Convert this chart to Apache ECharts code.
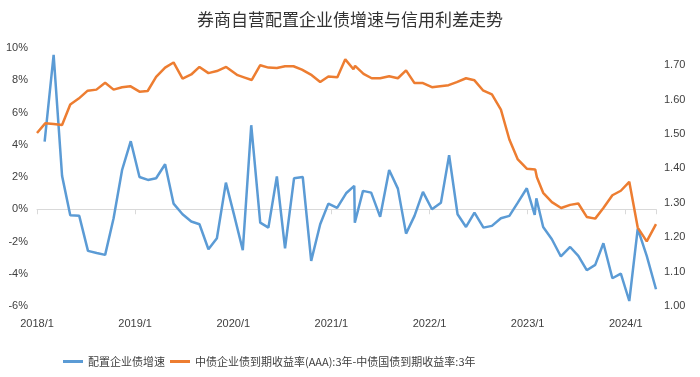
<!DOCTYPE html>
<html><head><meta charset="utf-8">
<script src="https://cdn.jsdelivr.net/npm/echarts@6/dist/echarts.min.js"></script>
<style>html,body{margin:0;padding:0;background:#fff}#c{width:700px;height:377px}</style>
</head><body><div id="c"></div>
<script>
const chartTitle = '券商自营配置企业债增速与信用利差走势';
const blueName = '配置企业债增速';
const orangeName = '中债企业债到期收益率(AAA):3年-中债国债到期收益率:3年';
const xTickLabels = ['2018/1','2019/1','2020/1','2021/1','2022/1','2023/1','2024/1'];

const blueDates = ['2018-01-29','2018-03-02','2018-04-03','2018-05-03','2018-06-06','2018-07-08','2018-08-10','2018-09-11','2018-10-12','2018-11-13','2018-12-15',
'2019-01-17','2019-02-18','2019-03-18','2019-04-21','2019-05-22','2019-06-25','2019-07-27','2019-08-27','2019-09-30','2019-11-01','2019-12-04',
'2020-01-04','2020-02-06','2020-03-07','2020-04-10','2020-05-10','2020-06-11','2020-07-11','2020-08-14','2020-09-16','2020-10-17','2020-11-20','2020-12-20',
'2021-01-22','2021-02-25','2021-03-25','2021-03-27','2021-04-27','2021-05-27','2021-06-30','2021-08-03','2021-09-05','2021-10-05','2021-11-06','2021-12-07',
'2022-01-10','2022-02-13','2022-03-13','2022-04-14','2022-05-15','2022-06-16','2022-07-19','2022-08-20','2022-09-23','2022-10-24','2022-11-25','2022-12-28',
'2023-01-27','2023-02-03','2023-02-28','2023-03-30','2023-05-03','2023-06-07','2023-07-07','2023-08-08','2023-09-09','2023-10-09','2023-11-12','2023-12-13',
'2024-01-14','2024-02-15','2024-03-18','2024-04-22'];
const blueValues = [4.20,9.57,2.07,-0.37,-0.41,-2.58,-2.71,-2.83,-0.56,2.42,4.22,
2.00,1.82,1.92,2.79,0.35,-0.31,-0.76,-0.93,-2.48,-1.80,1.65,
-0.35,-2.54,5.21,-0.83,-1.14,2.03,-2.42,1.92,2.00,-3.20,-0.93,0.35,
0.08,0.99,1.45,-0.83,1.14,1.03,-0.47,2.44,1.28,-1.51,-0.41,1.08,
0.00,0.41,3.35,-0.31,-1.10,-0.21,-1.14,-1.03,-0.56,-0.41,0.41,1.30,
-0.35,0.68,-1.10,-1.86,-2.93,-2.34,-2.89,-3.78,-3.45,-2.11,-4.28,-3.99,
-5.69,-1.20,-2.89,-4.96];

const orangeDates = ['2018-01-01','2018-02-01','2018-03-02','2018-04-03','2018-05-03','2018-06-04','2018-07-07','2018-08-09','2018-09-11','2018-10-12','2018-11-13','2018-12-13',
'2019-01-17','2019-02-17','2019-03-18','2019-04-21','2019-05-22','2019-06-25','2019-07-27','2019-08-27','2019-09-30','2019-11-01','2019-12-05',
'2020-01-17','2020-02-13','2020-03-09','2020-04-10','2020-05-10','2020-06-11','2020-07-11','2020-08-12','2020-09-13','2020-10-19','2020-11-20','2020-12-20',
'2021-01-23','2021-02-22','2021-03-22','2021-03-28','2021-04-29','2021-05-29','2021-06-30','2021-08-03','2021-09-05','2021-10-05','2021-11-06','2021-12-07',
'2022-01-10','2022-02-10','2022-03-11','2022-04-11','2022-05-15','2022-06-16','2022-07-17','2022-08-20','2022-09-23','2022-10-24','2022-11-25','2022-12-28',
'2023-01-29','2023-02-05','2023-02-28','2023-03-30','2023-05-04','2023-06-07','2023-07-07','2023-08-08','2023-09-09','2023-10-09','2023-11-12','2023-12-13',
'2024-01-14','2024-02-15','2024-03-18','2024-04-22'];
const orangeValues = [1.503,1.531,1.529,1.526,1.586,1.603,1.626,1.629,1.649,1.629,1.636,1.639,
1.623,1.625,1.666,1.693,1.708,1.661,1.673,1.695,1.677,1.683,1.695,
1.671,1.664,1.657,1.700,1.693,1.692,1.697,1.697,1.687,1.671,1.651,1.667,
1.665,1.717,1.688,1.698,1.675,1.662,1.662,1.668,1.662,1.685,1.648,1.648,
1.636,1.639,1.642,1.651,1.662,1.656,1.627,1.615,1.571,1.484,1.426,1.399,
1.397,1.374,1.329,1.302,1.285,1.294,1.298,1.259,1.254,1.285,1.322,1.335,
1.361,1.228,1.188,1.238];

function monthIndex(d) {
  const p = d.split('-').map(Number);
  return (p[0] - 2018) * 12 + (p[1] - 1) + (p[2] - 1) / 30;
}
const blueData = blueDates.map((d, i) => [monthIndex(d), blueValues[i]]);
const orangeData = orangeDates.map((d, i) => [monthIndex(d), orangeValues[i]]);
const xMax = Math.max(blueData[blueData.length - 1][0], orangeData[orangeData.length - 1][0]);

const labelFont = { color: '#404040', fontSize: 11, fontFamily: 'Liberation Sans, Noto Sans CJK SC' };
const chart = echarts.init(document.getElementById('c'), null, { renderer: 'canvas' });
chart.setOption({
  animation: false,
  backgroundColor: '#ffffff',
  title: {
    text: chartTitle, left: 'center', top: 6,
    textStyle: { fontSize: 17, fontWeight: 'normal', color: '#333', fontFamily: 'Noto Sans CJK SC' }
  },
  legend: {
    left: 58, top: 351, itemWidth: 20, itemHeight: 3, itemGap: 5, icon: 'rect',
    textStyle: { fontSize: 11, color: '#404040', fontFamily: 'Noto Sans CJK SC' },
    data: [blueName, orangeName]
  },
  grid: { left: 37, right: 44, top: 48, bottom: 71, containLabel: false },
  xAxis: [
    {
      type: 'value', min: 0, max: xMax, interval: 12, position: 'bottom',
      axisLine: { show: true, onZero: true, onZeroAxisIndex: 0, lineStyle: { color: '#d9d9d9', width: 1 } },
      axisTick: { show: true, length: 5, lineStyle: { color: '#d9d9d9' } },
      axisLabel: { show: false },
      splitLine: { show: false }
    },
    {
      type: 'value', min: 0, max: xMax, interval: 12, position: 'bottom',
      axisLine: { show: false, onZero: false },
      axisTick: { show: false },
      axisLabel: Object.assign({ margin: 12, showMaxLabel: false,
        formatter: v => (Math.abs(v % 12) < 1e-6 ? xTickLabels[Math.round(v / 12)] : '') }, labelFont),
      splitLine: { show: false }
    }
  ],
  yAxis: [
    {
      type: 'value', min: -6, max: 10, interval: 2,
      axisLine: { show: false }, axisTick: { show: false }, splitLine: { show: false },
      axisLabel: Object.assign({ margin: 9, formatter: v => v + '%' }, labelFont)
    },
    {
      type: 'value', min: 1.0, max: 1.75, interval: 0.1, position: 'right',
      axisLine: { show: false }, axisTick: { show: false }, splitLine: { show: false },
      axisLabel: Object.assign({ margin: 8, showMaxLabel: false,
        formatter: v => (Math.abs(v * 10 - Math.round(v * 10)) < 1e-6 ? v.toFixed(2) : '') }, labelFont)
    }
  ],
  series: [
    {
      name: blueName, type: 'line', xAxisIndex: 0, yAxisIndex: 0, data: blueData,
      symbol: 'none', lineStyle: { color: '#5B9BD5', width: 2.5 }, itemStyle: { color: '#5B9BD5' }
    },
    {
      name: orangeName, type: 'line', xAxisIndex: 0, yAxisIndex: 1, data: orangeData,
      symbol: 'none', lineStyle: { color: '#ED7D31', width: 2.5 }, itemStyle: { color: '#ED7D31' }
    }
  ]
});
</script>
</body></html>
